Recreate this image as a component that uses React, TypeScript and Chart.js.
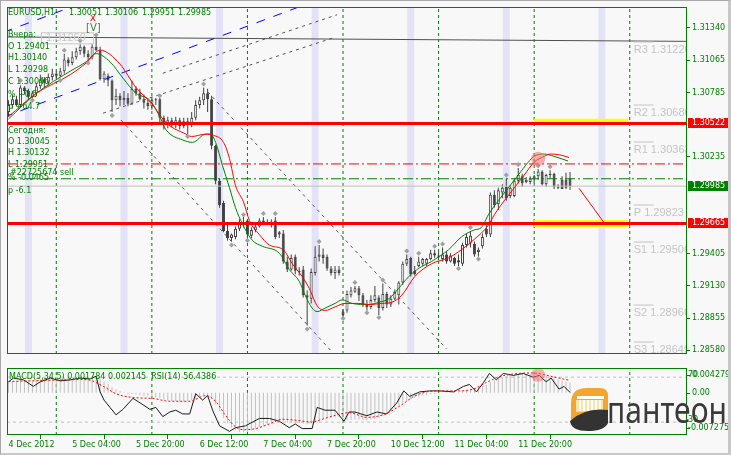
import React, { useEffect, useRef } from "react";
import { Chart, registerables } from "chart.js";

Chart.register(...registerables);

const GREEN = "#008000";
const FONT = '"DejaVu Sans", sans-serif';

// ---------------- data (EURUSD H1, bar 0 = 4 Dec 2012 12:00) ----------------
const openPrices = [
  1.3062, 1.3068, 1.3073, 1.3068, 1.3083, 1.308, 1.3075, 1.3078, 1.3084, 1.309,
  1.3087, 1.3092, 1.3095, 1.3093, 1.3097, 1.3107, 1.3104, 1.3109, 1.3114, 1.3118,
  1.3112, 1.3109, 1.3118, 1.3115, 1.309, 1.3093, 1.3089, 1.3072, 1.3076, 1.3072,
  1.3074, 1.3069, 1.3082, 1.3078, 1.3073, 1.307, 1.3067, 1.3072, 1.3073, 1.3057,
  1.3051, 1.3055, 1.3052, 1.3055, 1.305, 1.3054, 1.3051, 1.3057, 1.3068, 1.3072,
  1.3078, 1.3073, 1.3033, 1.3003, 1.2984, 1.296, 1.2954, 1.2955, 1.2962, 1.2966,
  1.2969, 1.2956, 1.2961, 1.2964, 1.2969, 1.2967, 1.2965, 1.2969, 1.2959, 1.2958,
  1.2934, 1.2927, 1.2938, 1.2926, 1.2927, 1.2905, 1.2902, 1.2924, 1.2938, 1.294,
  1.2938, 1.2928, 1.2924, 1.2927, 1.2891, 1.2892, 1.2905, 1.2908, 1.2911, 1.2905,
  1.2897, 1.2895, 1.2901, 1.2903, 1.2894, 1.2906, 1.2897, 1.2902, 1.2905, 1.2916,
  1.2932, 1.2937, 1.2926, 1.293, 1.2932, 1.2932, 1.2936, 1.2941, 1.2939, 1.2936,
  1.294, 1.2934, 1.2937, 1.2935, 1.2932, 1.2948, 1.295, 1.2949, 1.2942, 1.2947,
  1.2962, 1.2957, 1.2991, 1.2983, 1.2993, 1.2998, 1.299, 1.299, 1.3003, 1.3007,
  1.3002, 1.3002, 1.3005, 1.3007, 1.3011, 1.3, 1.3008, 1.3009, 1.2998, 1.3004,
  1.3004, 1.30051,
];
const highPrices = [
  1.3072, 1.3077, 1.3076, 1.3085, 1.3084, 1.3082, 1.308, 1.3087, 1.3094, 1.3092,
  1.3095, 1.3099, 1.3097, 1.31, 1.3112, 1.3109, 1.3114, 1.3117, 1.312, 1.3119,
  1.3115, 1.312, 1.3126, 1.3118, 1.3097, 1.3095, 1.309, 1.3082, 1.3078, 1.308,
  1.3078, 1.3089, 1.3084, 1.3082, 1.3077, 1.3073, 1.3075, 1.3074, 1.3074, 1.3059,
  1.3058, 1.3057, 1.3058, 1.3057, 1.3057, 1.3057, 1.3062, 1.3072, 1.3075, 1.3083,
  1.3082, 1.3076, 1.3034, 1.3005, 1.2986, 1.2967, 1.2958, 1.2964, 1.297, 1.2972,
  1.297, 1.2963, 1.2967, 1.2971, 1.2972, 1.297, 1.297, 1.2972, 1.296, 1.2961,
  1.2938, 1.294, 1.294, 1.2929, 1.293, 1.2909, 1.2928, 1.2947, 1.2948, 1.2945,
  1.294, 1.293, 1.293, 1.293, 1.2893, 1.2909, 1.2912, 1.2913, 1.2913, 1.2907,
  1.2901, 1.2905, 1.2913, 1.2905, 1.2915, 1.2908, 1.2905, 1.291, 1.2917, 1.2934,
  1.294, 1.2938, 1.293, 1.2938, 1.2937, 1.2937, 1.2944, 1.2944, 1.2942, 1.2946,
  1.2943, 1.2941, 1.2938, 1.294, 1.295, 1.2958, 1.296, 1.2951, 1.2946, 1.2958,
  1.2965, 1.2993, 1.2995, 1.2997, 1.3, 1.3005, 1.2999, 1.3005, 1.3014, 1.3009,
  1.3006, 1.3007, 1.3008, 1.30132, 1.3012, 1.3009, 1.3012, 1.301, 1.3, 1.3007,
  1.301, 1.30106,
];
const lowPrices = [
  1.3058, 1.3065, 1.3067, 1.3067, 1.3077, 1.3073, 1.3074, 1.3076, 1.3082, 1.3083,
  1.3085, 1.3089, 1.309, 1.3092, 1.3095, 1.3101, 1.3102, 1.3107, 1.3111, 1.3109,
  1.3106, 1.3107, 1.3114, 1.3089, 1.3087, 1.3084, 1.3062, 1.3068, 1.3067, 1.3068,
  1.3067, 1.3068, 1.3076, 1.3072, 1.3065, 1.3064, 1.3064, 1.3068, 1.3053, 1.3047,
  1.3048, 1.3049, 1.3048, 1.3047, 1.3048, 1.3043, 1.3049, 1.3055, 1.3065, 1.3068,
  1.3062, 1.303, 1.3, 1.298, 1.2959, 1.2952, 1.2951, 1.2953, 1.296, 1.2963,
  1.2955, 1.2954, 1.2959, 1.2963, 1.2965, 1.2965, 1.2963, 1.2953, 1.2954, 1.2932,
  1.2925, 1.2926, 1.2923, 1.2922, 1.2903, 1.2879, 1.2898, 1.2922, 1.2934, 1.2932,
  1.2926, 1.2922, 1.2919, 1.2922, 1.2887, 1.289, 1.2903, 1.2907, 1.29, 1.2895,
  1.2892, 1.2893, 1.2899, 1.2888, 1.2892, 1.2894, 1.2895, 1.2901, 1.2897, 1.2914,
  1.293, 1.2921, 1.2922, 1.2929, 1.293, 1.293, 1.2935, 1.2937, 1.2935, 1.2934,
  1.2932, 1.2933, 1.293, 1.293, 1.293, 1.2946, 1.2946, 1.2938, 1.2938, 1.2945,
  1.2955, 1.2955, 1.298, 1.2978, 1.2988, 1.2986, 1.2988, 1.2989, 1.3001, 1.2998,
  1.3001, 1.3, 1.3001, 1.3004, 1.2999, 1.2998, 1.3005, 1.2996, 1.2996, 1.2996,
  1.2996, 1.29951,
];
const closePrices = [
  1.3068, 1.3073, 1.3068, 1.3083, 1.308, 1.3075, 1.3078, 1.3084, 1.309, 1.3087,
  1.3092, 1.3095, 1.3093, 1.3097, 1.3107, 1.3104, 1.3109, 1.3114, 1.3118, 1.3112,
  1.3109, 1.3118, 1.3115, 1.309, 1.3095, 1.3089, 1.3072, 1.3076, 1.3072, 1.3074,
  1.3069, 1.3082, 1.3078, 1.3073, 1.307, 1.3067, 1.3072, 1.3073, 1.3057, 1.3051,
  1.3055, 1.3052, 1.3055, 1.305, 1.3054, 1.3051, 1.3057, 1.3068, 1.3072, 1.3078,
  1.3073, 1.3033, 1.3003, 1.2982, 1.296, 1.2954, 1.2957, 1.2962, 1.2967, 1.2967,
  1.2957, 1.2961, 1.2964, 1.2969, 1.2967, 1.2968, 1.2968, 1.2955, 1.2957, 1.2934,
  1.2927, 1.2937, 1.2926, 1.2925, 1.2905, 1.2903, 1.2925, 1.2938, 1.294, 1.2937,
  1.2928, 1.2924, 1.2927, 1.2924, 1.2888, 1.2906, 1.2909, 1.2911, 1.2905, 1.2897,
  1.2895, 1.2901, 1.2905, 1.2894, 1.2906, 1.2897, 1.2902, 1.2908, 1.2916, 1.2932,
  1.2936, 1.2923, 1.2923, 1.2934, 1.2936, 1.2936, 1.2941, 1.2939, 1.2938, 1.294,
  1.2934, 1.2939, 1.2932, 1.2933, 1.2948, 1.2955, 1.2956, 1.294, 1.2944, 1.2955,
  1.2957, 1.2991, 1.2982, 1.2995, 1.2997, 1.2988, 1.2997, 1.3003, 1.3008, 1.3001,
  1.3004, 1.3005, 1.3007, 1.3011, 1.3, 1.3008, 1.3009, 1.2998, 1.2997, 1.2996,
  1.2997, 1.29985,
];

// moving averages (read at points)
const fastMaIdx = [0, 7, 15.5, 19.5, 22, 25.5, 28.75, 32, 35.5, 38, 39.5, 43.75, 46.25, 49.5, 50.75, 52, 53.75, 55.5, 57, 58.75, 61.25, 63.75, 68, 70.5, 73, 74.5, 76.25, 77.5, 79.5, 82, 83.75, 86.25, 90.5, 93, 95.5, 98, 100.5, 103, 106.25, 110.5, 113.75, 117, 118.75, 120.5, 123, 125.5, 128, 130.5, 132, 134.5, 137, 140.5];
const fastMaVal = [1.3056, 1.3078, 1.3097, 1.3105, 1.3112, 1.3105, 1.3091, 1.3078, 1.3072, 1.3058, 1.3047, 1.3038, 1.3036, 1.3043, 1.3043, 1.3036, 1.3016, 1.2997, 1.298, 1.2966, 1.2952, 1.2947, 1.2941, 1.2927, 1.2917, 1.2905, 1.2894, 1.2891, 1.2894, 1.2898, 1.2901, 1.2898, 1.2897, 1.2899, 1.2902, 1.2911, 1.2921, 1.2928, 1.2934, 1.2944, 1.2955, 1.2961, 1.2963, 1.2974, 1.2986, 1.2997, 1.3008, 1.3019, 1.3024, 1.3026, 1.3024, 1.302];
const slowMaIdx = [0, 7, 15.5, 19.5, 23, 28, 32, 36, 39, 41, 44, 46, 49.5, 51.5, 54, 55.5, 57, 59, 60.5, 63, 65.5, 69, 71.25, 73.75, 75.5, 77.5, 79.5, 82, 84.5, 88, 90.5, 93.75, 96.25, 98.75, 102, 106.25, 110.5, 113.75, 117, 120.5, 122, 124.5, 127, 129.5, 132, 134.5, 136.25, 138.75, 140.75];
const slowMaVal = [1.3058, 1.3078, 1.3094, 1.3104, 1.3115, 1.3103, 1.3083, 1.3069, 1.3055, 1.3049, 1.3044, 1.3041, 1.3043, 1.3042, 1.3036, 1.3022, 1.2999, 1.2985, 1.2969, 1.2957, 1.2948, 1.2944, 1.2932, 1.2921, 1.2911, 1.2896, 1.2892, 1.2895, 1.2898, 1.2898, 1.2897, 1.2898, 1.2899, 1.2905, 1.2921, 1.2932, 1.2937, 1.2944, 1.2953, 1.2965, 1.2974, 1.2986, 1.2997, 1.3008, 1.3019, 1.3024, 1.3026, 1.3025, 1.3023];

// fractals
const upFractalIdx = [3, 14, 18, 22, 38, 49, 59, 64, 67, 78, 87, 94, 100, 103, 107, 109, 116, 125, 128, 133, 136];
const upFractalVal = [1.3089, 1.3115, 1.3123, 1.3128, 1.3076, 1.3086, 1.2974, 1.2975, 1.2975, 1.2951, 1.2916, 1.2918, 1.2943, 1.2941, 1.2947, 1.2949, 1.2963, 1.3008, 1.3017, 1.3016, 1.3015];
const downFractalIdx = [6, 13, 20, 26, 45, 56, 60, 75, 84, 90, 93, 113, 118];
const downFractalVal = [1.3072, 1.3089, 1.3104, 1.3059, 1.3041, 1.2948, 1.2952, 1.2876, 1.2885, 1.289, 1.2886, 1.2928, 1.2936];

// MACD(5,34,5) histogram, signal and RSI(14)
const macdHist = [
  0.0019, 0.002, 0.0021, 0.0022, 0.0022, 0.0022, 0.0021, 0.0022, 0.0023, 0.0023,
  0.0024, 0.0024, 0.0025, 0.0025, 0.0026, 0.0026, 0.0027, 0.0027, 0.0028, 0.0028,
  0.0028, 0.0028, 0.0029, 0.0025, 0.002, 0.0016, 0.001, 0.0006, 0.0003, 0.0001,
  -0.0002, -0.0002, -0.0003, -0.0004, -0.0005, -0.0006, -0.0007, -0.0008, -0.001, -0.0012,
  -0.0013, -0.0014, -0.0015, -0.0016, -0.0016, -0.0015, -0.0013, -0.001, -0.0007, -0.0004,
  -0.0004, -0.001, -0.002, -0.0032, -0.0043, -0.0053, -0.006, -0.0065, -0.0068, -0.0068,
  -0.0067, -0.0065, -0.0062, -0.006, -0.0057, -0.0055, -0.0052, -0.005, -0.0049, -0.005,
  -0.0051, -0.0051, -0.0052, -0.0052, -0.0053, -0.0054, -0.0052, -0.0049, -0.0046, -0.0044,
  -0.0043, -0.0042, -0.0042, -0.0042, -0.0047, -0.0048, -0.0047, -0.0046, -0.0046, -0.0047,
  -0.0048, -0.0047, -0.0045, -0.0043, -0.004, -0.0036, -0.0032, -0.0027, -0.0022, -0.0017,
  -0.0014, -0.0011, -0.0009, -0.0007, -0.0005, -0.0004, -0.0003, -0.0002, -0.0001, 0.0,
  0.0001, 0.0001, 0.0001, 0.0001, 0.0003, 0.0005, 0.0007, 0.0008, 0.0009, 0.0012,
  0.0014, 0.0019, 0.0022, 0.0025, 0.0027, 0.0029, 0.003, 0.0031, 0.0032, 0.0033,
  0.0033, 0.0033, 0.0033, 0.0032, 0.0031, 0.0029, 0.0027, 0.0025, 0.0023, 0.0021,
  0.0019, 0.0018,
];
const signalIdx = [0, 19.5, 23.75, 27, 31.25, 36.25, 40.5, 45.5, 49.5, 52, 54.5, 57, 58.75, 62, 65.5, 68.75, 72, 76.25, 78.75, 82, 85.5, 90, 94.25, 98.25, 101.75, 105, 108.25, 112.5, 116.75, 120, 123.25, 126.75, 131.75, 136.75, 140, 141];
const signalVal = [0.00195, 0.00228, 0.00114, -0.00016, -0.00081, -0.00098, -0.00146, -0.00146, -0.00049, -0.00146, -0.0039, -0.00586, -0.00635, -0.00618, -0.00537, -0.00456, -0.00472, -0.00504, -0.00456, -0.0039, -0.00342, -0.00423, -0.00374, -0.00228, -0.00065, 0.00016, 0.00033, 0.00033, 0.00065, 0.00179, 0.00277, 0.00325, 0.00342, 0.00277, 0.00228, 0.002145];
const rsiIdx = [0, 1.25, 3.75, 6.25, 8, 10.5, 13, 15.5, 18, 20.5, 22, 23, 24, 25.5, 27, 28.75, 31.25, 33.75, 35.5, 37, 38.75, 40.5, 42, 43.75, 45.5, 47, 48.75, 50, 51.25, 53, 55.5, 57, 59.5, 63, 65.5, 68, 70.5, 72, 73.75, 76.25, 77.5, 79.5, 82, 84.25, 85.5, 87, 90, 92.5, 95, 97.5, 99.25, 100.75, 103.25, 105.75, 108.25, 111.75, 114.25, 115.75, 117.5, 119.25, 120.75, 122.5, 124.25, 126.75, 129.25, 131.75, 133.25, 135, 136.25, 138.25, 139.5, 141];
const rsiVal = [65.9, 69.2, 67.6, 61.8, 65.9, 69.2, 66.7, 67.6, 69.2, 68.4, 70.8, 56.9, 49.6, 43.1, 36.5, 41.4, 51.2, 45.5, 41.4, 43.1, 34.9, 39.0, 40.6, 37.3, 37.3, 55.3, 49.6, 53.7, 40.6, 26.7, 21.8, 25.1, 26.7, 33.3, 33.3, 30.8, 25.1, 28.4, 24.3, 24.3, 43.1, 40.6, 40.6, 30.8, 39.0, 39.0, 35.7, 39.0, 37.3, 47.1, 57.8, 52.9, 56.9, 57.8, 57.8, 56.9, 61.8, 63.5, 56.9, 65.1, 73.3, 67.6, 73.3, 71.6, 73.3, 70.0, 71.6, 65.9, 69.2, 59.4, 61.8, 56.4];

// time axis
const daySeparators = [12, 36, 60, 84, 108, 132, 156];
const sessionBands = [5, 29, 53, 77, 101, 125, 149];
const timeTickIdx = [0, 16, 32, 48, 64, 80, 96, 112, 128];
const timeTickText = ["4 Dec 2012", "5 Dec 04:00", "5 Dec 20:00", "6 Dec 12:00", "7 Dec 04:00", "7 Dec 20:00", "10 Dec 12:00", "11 Dec 04:00", "11 Dec 20:00"];
const priceTicks = [1.3134, 1.31065, 1.30785, 1.30235, 1.29405, 1.2913, 1.28855, 1.2858];

// levels and drawn objects
const resistanceLevel = 1.30522;
const supportLevel = 1.29665;
const stopLevel = 1.30175;
const orderLevel = 1.30048;
const bidPrice = 1.29985;
const peakPrice = 1.3126;
const pivotNames = ["R3", "R2", "R1", "P", "S1", "S2", "S3"];
const pivotValues = [1.3122, 1.3068, 1.30363, 1.29823, 1.29506, 1.28966, 1.28649];
const zoneIdx = [132, 155.6];
const blueChannelIdx = [-1.25, 80];
const blueLowerVal = [1.30576, 1.3161];
const blueUpperVal = [1.31303, 1.32337];
const riseAIdx = [23.75, 81.25];
const riseAVal = [1.3061, 1.31252];
const riseBIdx = [38.75, 82.5];
const riseBVal = [1.30952, 1.31453];
const fall1Idx = [50, 110];
const fall1Val = [1.30793, 1.2859];
const fall2Idx = [28.25, 81.25];
const fall2Val = [1.30551, 1.28564];
const topLineIdx = [-0.375, 170.375];
const topLineVal = [1.31263, 1.31225];
const projIdx = [143.25, 149.5];
const projVal = [1.29967, 1.29674];
const markIdx = [133];
const markPrice = [1.3022];
const markMacd = [0.0031];

const titleParts = ["EURUSD,H1", "1.30051", "1.30106", "1.29951", "1.29985"];
const yesterdayLines = ["Вчера:", "O 1.29401", "H1.30140", "L 1.29298", "C 1.30046", "% +0.5", "p +64.7"];
const todayLines = ["Сегодня:", "O 1.30045", "H 1.30132", "L 1.29951", "% -0.0465", "p -6.1"];

// ---------------- layout constants ----------------
const X_MIN = -0.375, X_MAX = 170.375;
const Y_MIN = 1.285466, Y_MAX = 1.315195;
const M_MIN = -0.007275, M_MAX = 0.004279;
const R_MIN = 18.57, R_MAX = 78.16;

const pts = (xs: number[], ys: number[]) => xs.map((x, i) => ({ x, y: ys[i] }));
const line = (data: any[], color: string, width: number, dash: number[], order: number, extra: any = {}) => ({
  type: "line", data, borderColor: color, borderWidth: width, borderDash: dash,
  pointRadius: 0, pointHoverRadius: 0, fill: false, tension: 0, order, ...extra,
});

const mainDecor = {
  id: "mainDecor",
  afterDraw(chart: any) {
    const { ctx, chartArea: a, scales } = chart;
    const ys = scales.y, xs = scales.x;
    ctx.save();
    ctx.strokeStyle = GREEN; ctx.lineWidth = 1;
    ctx.strokeRect(a.left + 0.5, a.top + 0.5, a.right - a.left - 1, a.bottom - a.top - 1);
    ctx.save();
    ctx.beginPath(); ctx.rect(a.left, a.top, a.right - a.left - 1, a.bottom - a.top); ctx.clip();
    ctx.font = '11px "Liberation Sans", sans-serif';
    ctx.fillStyle = "#C4C4C4"; ctx.textBaseline = "middle"; ctx.textAlign = "left";
    pivotNames.forEach((n, i) => {
      const y = ys.getPixelForValue(pivotValues[i]) + 8;
      ctx.fillText(n + " " + pivotValues[i].toFixed(5), xs.getPixelForValue(157), y);
    });
    const py = ys.getPixelForValue(peakPrice);
    ctx.strokeStyle = "#C8C8C8";
    ctx.strokeRect(41.5, py - 4.5, 52, 11);
    ctx.fillStyle = "#C8C8C8";
    ctx.fillText(peakPrice.toFixed(5), 46, py + 1);
    ctx.font = "10px " + FONT;
    ctx.fillStyle = "#3F7F3F"; ctx.fillText("[V]", 86, 28);
    ctx.fillStyle = "#FF0000"; ctx.fillText("x", 90, 18);
    ctx.font = "8px " + FONT; ctx.fillStyle = GREEN;
    const tx = [8, 69, 105, 142, 178];
    titleParts.forEach((t, i) => ctx.fillText(t, tx[i], 13));
    const yy = [35, 47, 58, 70, 82, 95, 107];
    yesterdayLines.forEach((t, i) => ctx.fillText(t, 8, yy[i]));
    const ty = [131, 142, 153, 165, 178, 191];
    todayLines.forEach((t, i) => ctx.fillText(t, 8, ty[i]));
    ctx.fillText("#22725674 sell", 10, 173);
    ctx.restore();
    const boxes: [number, string][] = [[resistanceLevel, "#FF0000"], [bidPrice, GREEN], [supportLevel, "#FF0000"]];
    ctx.font = "8px " + FONT; ctx.textBaseline = "middle"; ctx.textAlign = "left";
    boxes.forEach(([v, c]) => {
      const y = Math.round(ys.getPixelForValue(v));
      ctx.fillStyle = c; ctx.fillRect(688, y - 5, 41, 10);
      ctx.fillStyle = "#FFFFFF"; ctx.fillText(v.toFixed(5), 692, y);
    });
    ctx.restore();
  },
};

const subDecor = {
  id: "subDecor",
  afterDraw(chart: any) {
    const { ctx, chartArea: a, scales } = chart;
    const ms = scales.macd, rs = scales.rsi;
    ctx.save();
    ctx.strokeStyle = GREEN; ctx.lineWidth = 1;
    ctx.strokeRect(a.left + 0.5, a.top + 0.5, a.right - a.left - 1, a.bottom - a.top - 1);
    ctx.font = "8px " + FONT; ctx.fillStyle = GREEN; ctx.textBaseline = "middle"; ctx.textAlign = "left";
    ctx.fillText("MACD(5,34,5) 0.001784 0.002145  RSI(14) 56.4386", 9, a.top + 9);
    const yTop = ms.getPixelForValue(M_MAX) + 7;
    const yZero = ms.getPixelForValue(0);
    const yBot = ms.getPixelForValue(M_MIN) - 7;
    const y70 = rs.getPixelForValue(70) - 3;
    const y30 = rs.getPixelForValue(30) - 2;
    ctx.fillText("0.004279", 692, yTop);
    ctx.fillText("70", 688, y70 + 1);
    ctx.fillText("0.00", 692, yZero);
    ctx.fillText("30", 688, y30);
    ctx.fillText("-0.007275", 688, yBot);
    ctx.beginPath();
    [yTop, yZero, yBot].forEach((y) => { const yy = Math.round(y) + 0.5; ctx.moveTo(687, yy); ctx.lineTo(690, yy); });
    ctx.stroke();
    ctx.restore();
  },
};

function mainConfig(): any {
  const idx = closePrices.map((_, i) => i);
  const bodyColors = idx.map((i) => (closePrices[i] >= openPrices[i] ? "#FFFFFF" : "#404040"));
  const flat = (v: number) => pts([X_MIN, X_MAX], [v, v]);
  const datasets: any[] = [
    { type: "bar", data: sessionBands.map((b) => ({ x: b, y: [Y_MIN, Y_MAX] })), backgroundColor: "#E3E3F8", barThickness: 7, maxBarThickness: 7, grouped: false, inflateAmount: 0, order: 100 },
    ...daySeparators.map((s) => line([{ x: s, y: Y_MIN }, { x: s, y: Y_MAX }], GREEN, 1, [3, 3], 95)),
    { type: "bar", data: idx.map((i) => ({ x: i, y: [lowPrices[i], highPrices[i]] })), backgroundColor: "#404040", barThickness: 1, maxBarThickness: 1, grouped: false, inflateAmount: 0, order: 80 },
    { type: "bar", data: idx.map((i) => ({ x: i, y: [openPrices[i], closePrices[i]] })), backgroundColor: bodyColors, borderColor: "#404040", borderWidth: 1, borderSkipped: false, barThickness: 3, maxBarThickness: 3, grouped: false, inflateAmount: 0, minBarLength: 1, order: 79 },
    line(pts(blueChannelIdx, blueLowerVal), "#0000FF", 1, [9, 9], 75),
    line(pts(blueChannelIdx, blueUpperVal), "#0000FF", 1, [9, 9], 75),
    line(pts(riseAIdx, riseAVal), "#505050", 1, [3, 4], 75),
    line(pts(riseBIdx, riseBVal), "#505050", 1, [3, 4], 75),
    line(pts(fall1Idx, fall1Val), "#505050", 1, [3, 4], 75),
    line(pts(fall2Idx, fall2Val), "#505050", 1, [3, 4], 75),
    line(pts(topLineIdx, topLineVal), "#505050", 1, [], 75),
    ...pivotValues.map((v) => line(pts([157, 162], [v, v]), "#C4C4C4", 1, [], 74)),
    line(flat(bidPrice), "#C0C0C0", 1, [], 72),
    line(pts(zoneIdx, [1.30545, 1.30545]), "#FFFF00", 4, [], 70),
    line(pts(zoneIdx, [supportLevel, supportLevel]), "#FFFF00", 7, [], 70),
    line(flat(resistanceLevel), "#FF0000", 3, [], 60),
    line(flat(supportLevel), "#FF0000", 3, [], 60),
    line(flat(stopLevel), "#FF0000", 1, [10, 3, 2, 3], 60),
    line(flat(orderLevel), GREEN, 1, [10, 3, 2, 3], 60),
    line(pts(slowMaIdx, slowMaVal), "#FF0000", 1, [], 40, { cubicInterpolationMode: "monotone" }),
    line(pts(fastMaIdx, fastMaVal), "#008000", 1, [], 41, { cubicInterpolationMode: "monotone" }),
    line(pts(upFractalIdx, upFractalVal), "#A0A0A0", 0, [], 30, { showLine: false, pointRadius: 2.5, pointStyle: "rectRot", pointBackgroundColor: "#A0A0A0", pointBorderWidth: 0 }),
    line(pts(downFractalIdx, downFractalVal), "#A0A0A0", 0, [], 30, { showLine: false, pointRadius: 2.5, pointStyle: "rectRot", pointBackgroundColor: "#A0A0A0", pointBorderWidth: 0 }),
    line(pts(markIdx, markPrice), "rgba(0,0,0,0)", 0, [], 20, { showLine: false, pointRadius: 7, pointBackgroundColor: "rgba(248,110,110,0.55)", pointBorderWidth: 0 }),
    line(pts(projIdx, projVal), "#FF0000", 1, [], 10),
  ];
  return {
    type: "line",
    data: { datasets },
    options: {
      animation: false, responsive: false, devicePixelRatio: 1, events: [],
      layout: { padding: { left: 4, top: 4, right: 0, bottom: 1 } },
      plugins: { legend: { display: false }, tooltip: { enabled: false } },
      scales: {
        x: { type: "linear", min: X_MIN, max: X_MAX, display: false, offset: false },
        y: {
          type: "linear", position: "right", min: Y_MIN, max: Y_MAX,
          afterBuildTicks: (s: any) => { s.ticks = priceTicks.map((v) => ({ value: v })); },
          afterFit: (s: any) => { s.width = 44; s.paddingTop = 0; s.paddingBottom = 0; },
          ticks: { color: GREEN, font: { family: FONT, size: 8 }, padding: 2, autoSkip: false, callback: (v: any) => Number(v).toFixed(5) },
          grid: { drawOnChartArea: false, drawTicks: true, tickLength: 3, color: GREEN },
          border: { display: false },
        },
      },
    },
    plugins: [mainDecor],
  };
}

function subConfig(): any {
  const datasets: any[] = [
    ...daySeparators.map((s) => line([{ x: s, y: M_MIN }, { x: s, y: M_MAX }], GREEN, 1, [3, 3], 95, { yAxisID: "macd" })),
    line(pts([X_MIN, X_MAX], [70, 70]), "#C0C0C0", 1, [3, 3], 94, { yAxisID: "rsi" }),
    line(pts([X_MIN, X_MAX], [30, 30]), "#C0C0C0", 1, [3, 3], 94, { yAxisID: "rsi" }),
    { type: "bar", yAxisID: "macd", data: macdHist.map((v, i) => ({ x: i, y: v })), backgroundColor: "#C0C0C0", barThickness: 1, maxBarThickness: 1, grouped: false, inflateAmount: 0, order: 90 },
    line(pts(rsiIdx, rsiVal), "#1A1A1A", 1, [], 50, { yAxisID: "rsi" }),
    line(pts(signalIdx, signalVal), "#FF0000", 1, [2, 2], 40, { yAxisID: "macd", cubicInterpolationMode: "monotone" }),
    line(pts(markIdx, markMacd), "rgba(0,0,0,0)", 0, [], 20, { yAxisID: "macd", showLine: false, pointRadius: 7, pointBackgroundColor: "rgba(248,110,110,0.55)", pointBorderWidth: 0 }),
  ];
  return {
    type: "line",
    data: { datasets },
    options: {
      animation: false, responsive: false, devicePixelRatio: 1, events: [],
      layout: { padding: { left: 4, top: 1, right: 44, bottom: 0 } },
      plugins: { legend: { display: false }, tooltip: { enabled: false } },
      scales: {
        x: {
          type: "linear", position: "bottom", min: X_MIN, max: X_MAX, offset: false,
          afterBuildTicks: (s: any) => { s.ticks = timeTickIdx.map((v) => ({ value: v })); },
          afterFit: (s: any) => { s.height = 20; s.paddingLeft = 0; s.paddingRight = 0; },
          ticks: { color: GREEN, font: { family: FONT, size: 8 }, align: "start", maxRotation: 0, minRotation: 0, autoSkip: false, padding: 1, callback: (_v: any, i: number) => timeTickText[i] },
          grid: { drawOnChartArea: false, drawTicks: true, tickLength: 4, color: GREEN },
          border: { display: false },
        },
        macd: { axis: "y", type: "linear", position: "right", min: M_MIN, max: M_MAX, display: false },
        rsi: { axis: "y", type: "linear", position: "right", min: R_MIN, max: R_MAX, display: false },
      },
    },
    plugins: [subDecor],
  };
}

export default function App() {
  const mainRef = useRef<HTMLCanvasElement>(null);
  const subRef = useRef<HTMLCanvasElement>(null);
  useEffect(() => {
    const c1 = new Chart(mainRef.current as HTMLCanvasElement, mainConfig());
    const c2 = new Chart(subRef.current as HTMLCanvasElement, subConfig());
    return () => { c1.destroy(); c2.destroy(); };
  }, []);
  return (
    <div style={{ position: "fixed", left: 0, top: 0, width: 731, height: 455, background: "#F8F8F8", overflow: "hidden" }}>
      <canvas ref={mainRef} width={731} height={361} style={{ position: "absolute", left: 0, top: 0, display: "block" }} />
      <canvas ref={subRef} width={731} height={94} style={{ position: "absolute", left: 0, top: 361, display: "block" }} />
      <svg width={731} height={455} style={{ position: "absolute", left: 0, top: 0, pointerEvents: "none" }}>
        <path d="M571 421 L571 403 Q571 388 587 388 L600 388 Q608 388 608 396 L608 413 Z" fill="#F2A531" />
        <path d="M576 412 L576 400 L603 400 L603 411 Z" fill="#FFE3A6" />
        <rect x={577} y={396} width={27} height={3} fill="#FFFFFF" />
        {[579, 583, 587, 591, 595, 599].map((x) => (
          <rect key={x} x={x} y={400} width={2} height={11} fill="#FFFFFF" />
        ))}
        <path d="M570 421 Q585 407 608 410 L608 423 Q604 431 588 431 Q571 431 570 421 Z" fill="#333333" />
        <text x={607} y={423} fontFamily='"Noto Sans", sans-serif' fontSize={36} fill="#3A3A3A" textLength={120} lengthAdjust="spacingAndGlyphs">пантеон</text>
      </svg>
      <div style={{ position: "absolute", left: 0, top: 0, width: 731, height: 455, boxSizing: "border-box", borderTop: "1px solid #A8A8A8", borderLeft: "1px solid #A8A8A8", borderRight: "3px solid #C8C8C8", borderBottom: "2px solid #C8C8C8", pointerEvents: "none" }} />
    </div>
  );
}
